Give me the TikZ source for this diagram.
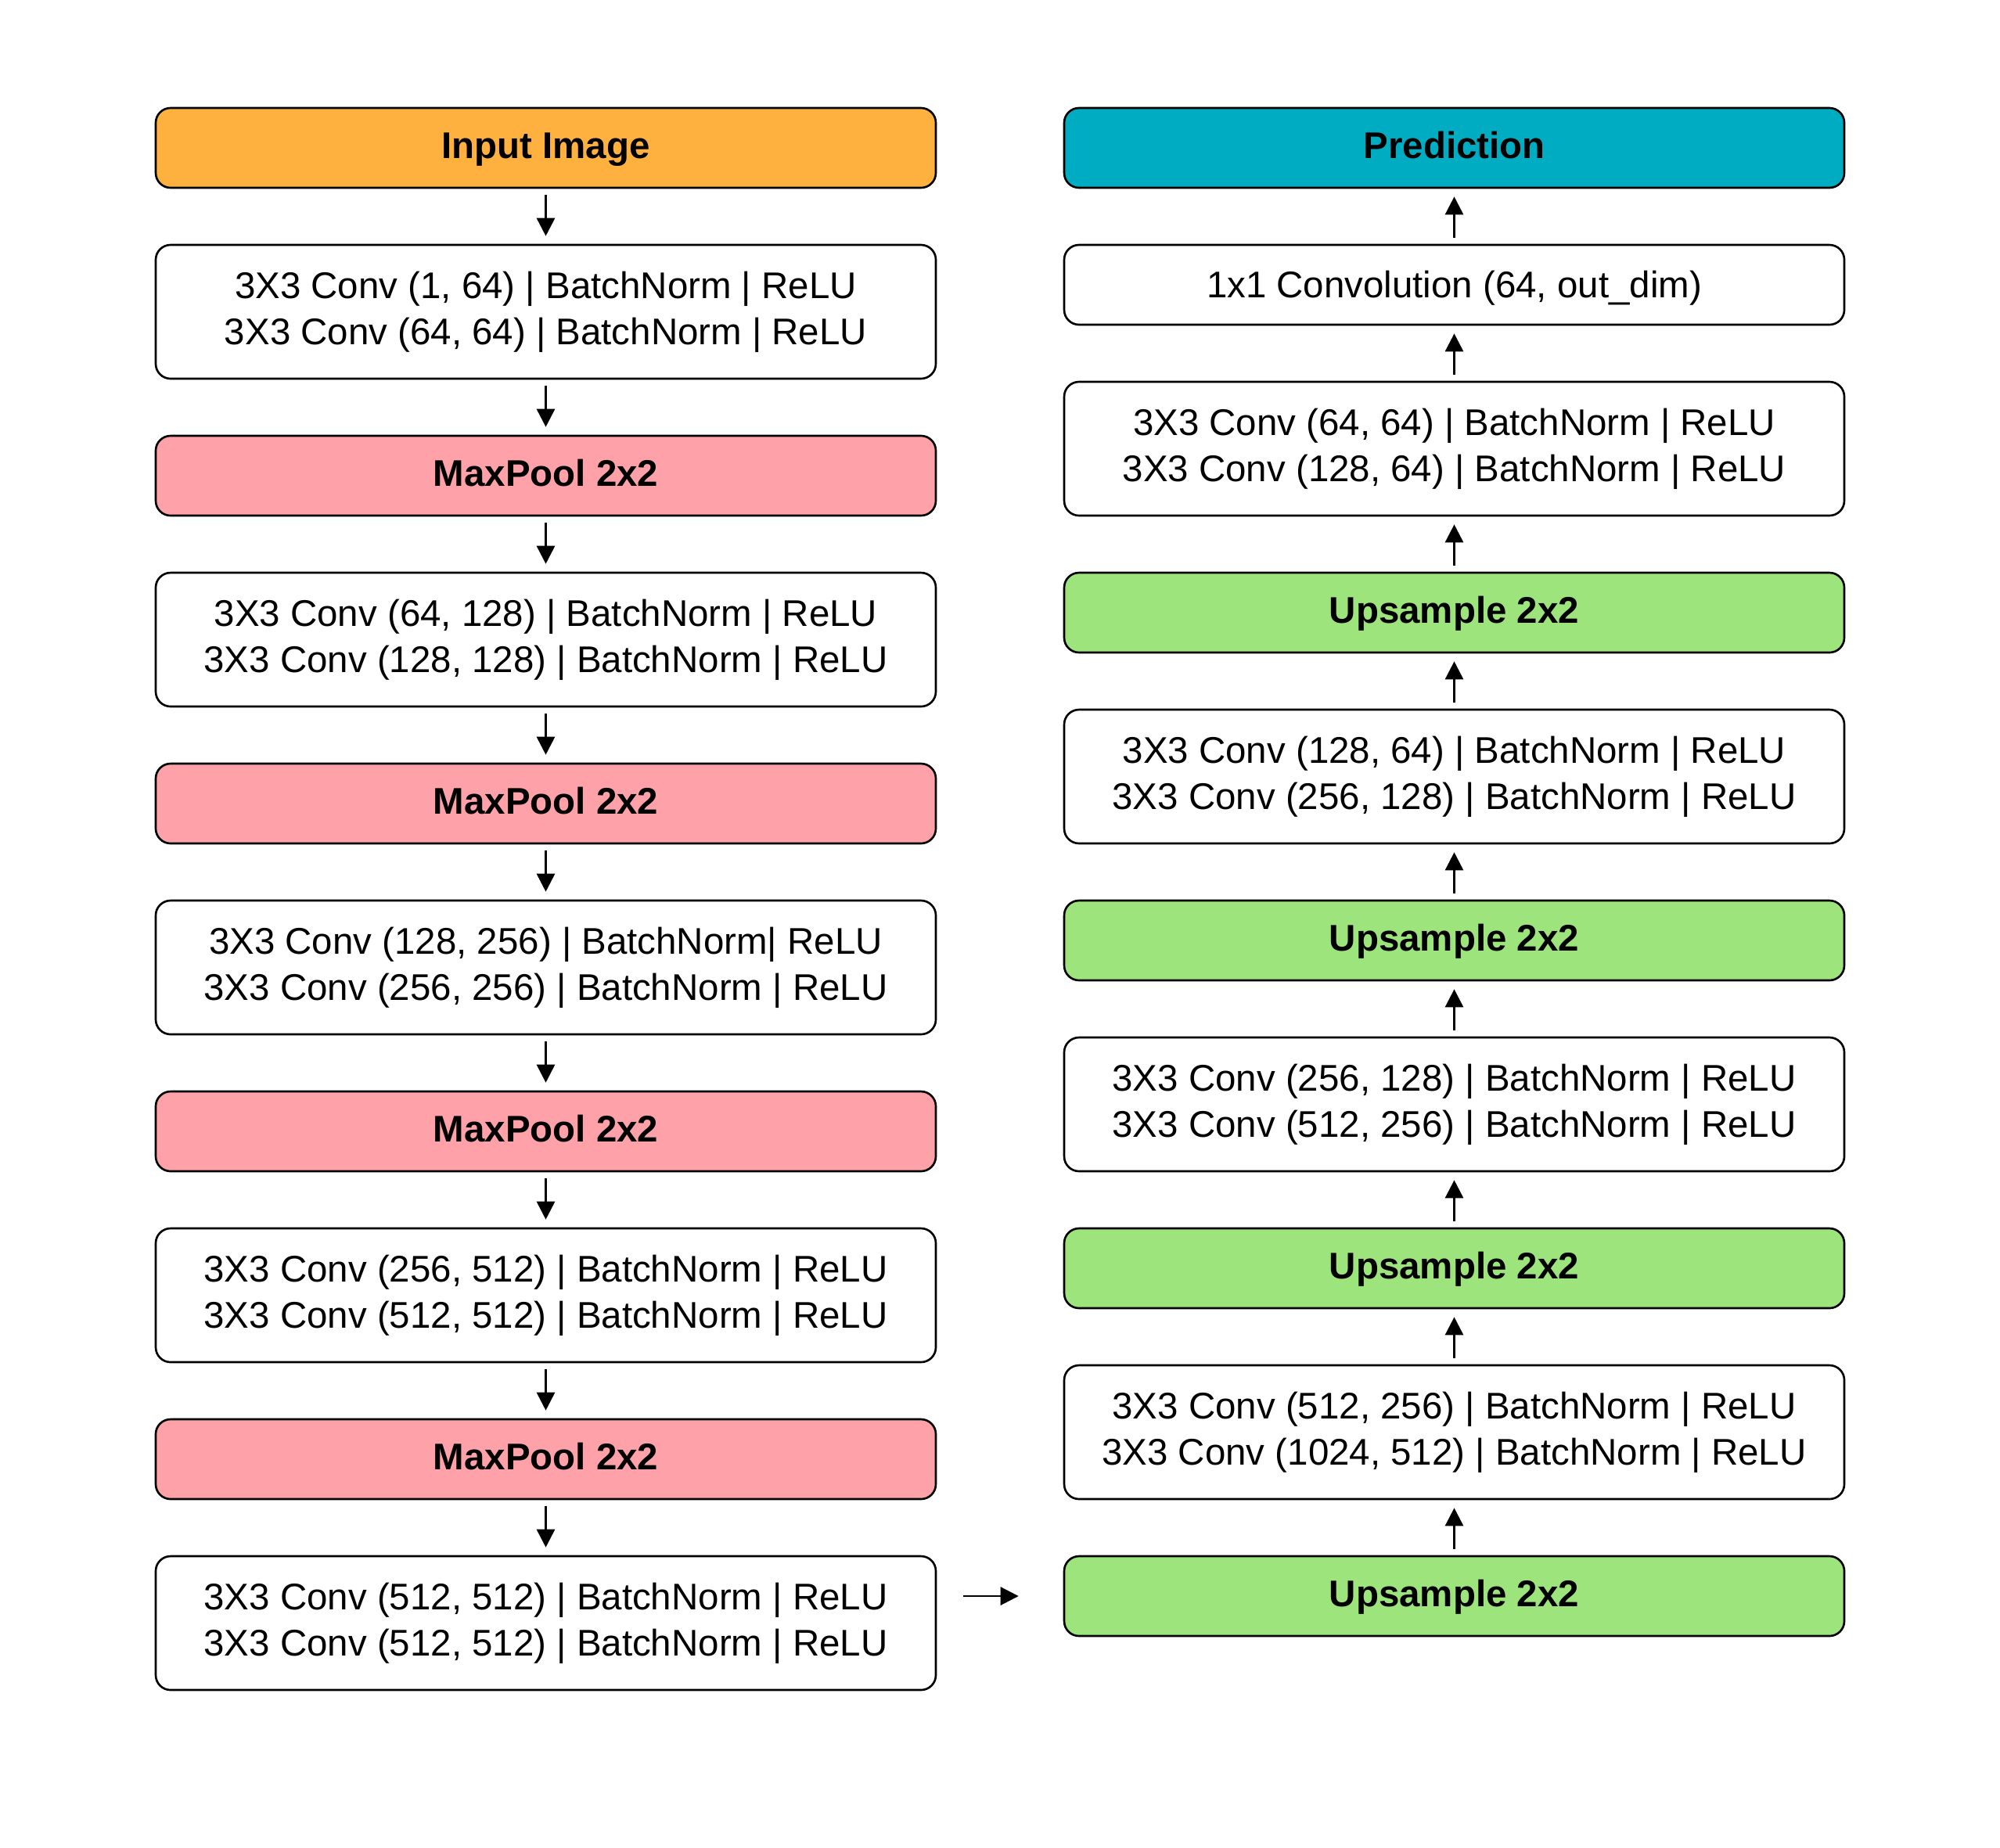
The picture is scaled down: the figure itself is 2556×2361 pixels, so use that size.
\documentclass[tikz,border=0pt]{standalone}
\usepackage{fontspec}
\setmainfont{Liberation Sans}
\usepackage{tikz}
\usetikzlibrary{arrows.meta}

\definecolor{inorange}{RGB}{255,177,64}
\definecolor{predteal}{RGB}{0,172,193}
\definecolor{poolpink}{RGB}{255,161,168}
\definecolor{upgreen}{RGB}{157,228,124}

\tikzset{
  blk/.style={draw=black, line width=0.75pt, rounded corners=1.9mm, align=center,
    minimum width=99.7mm, inner sep=0pt,
    font=\fontsize{13.5}{16.8}\selectfont},
  small/.style={blk, minimum height=10.2mm, text height=9.7pt, text depth=2.3pt},
  large/.style={blk, minimum height=17.1mm, fill=white},
  colbox/.style={small, fill=#1, font=\fontsize{13.5}{16.8}\selectfont\bfseries},
  arr/.style={-{Triangle[length=2.3mm,width=2.3mm]}, line width=0.8pt,
    shorten <=0.8mm, shorten >=1mm}
}

\begin{document}
\begin{tikzpicture}[x=0.1mm,y=-0.1mm]
\useasboundingbox (0,0) rectangle (2556,2361);

% encoder (left column)
\node[colbox=inorange] (inp) at (697.5,189) {Input Image};
\node[large] (cv1) at (697.5,398.5) {3X3 Conv (1, 64) | BatchNorm | ReLU\\3X3 Conv (64, 64) | BatchNorm | ReLU};
\node[colbox=poolpink] (mp1) at (697.5,608) {MaxPool 2x2};
\node[large] (cv2) at (697.5,817.5) {3X3 Conv (64, 128) | BatchNorm | ReLU\\3X3 Conv (128, 128) | BatchNorm | ReLU};
\node[colbox=poolpink] (mp2) at (697.5,1027) {MaxPool 2x2};
\node[large] (cv3) at (697.5,1236.5) {3X3 Conv (128, 256) | BatchNorm| ReLU\\3X3 Conv (256, 256) | BatchNorm | ReLU};
\node[colbox=poolpink] (mp3) at (697.5,1446) {MaxPool 2x2};
\node[large] (cv4) at (697.5,1655.5) {3X3 Conv (256, 512) | BatchNorm | ReLU\\3X3 Conv (512, 512) | BatchNorm | ReLU};
\node[colbox=poolpink] (mp4) at (697.5,1865) {MaxPool 2x2};
\node[large] (cv5) at (697.5,2074.5) {3X3 Conv (512, 512) | BatchNorm | ReLU\\3X3 Conv (512, 512) | BatchNorm | ReLU};

% decoder (right column)
\node[colbox=predteal] (pred) at (1858.5,189) {Prediction};
\node[small, text depth=0.1pt] (out) at (1858.5,364) {1x1 Convolution (64, out\_dim)};
\node[large] (dc1) at (1858.5,573.5) {3X3 Conv (64, 64) | BatchNorm | ReLU\\3X3 Conv (128, 64) | BatchNorm | ReLU};
\node[colbox=upgreen] (up1) at (1858.5,783) {Upsample 2x2};
\node[large] (dc2) at (1858.5,992.5) {3X3 Conv (128, 64) | BatchNorm | ReLU\\3X3 Conv (256, 128) | BatchNorm | ReLU};
\node[colbox=upgreen] (up2) at (1858.5,1202) {Upsample 2x2};
\node[large] (dc3) at (1858.5,1411.5) {3X3 Conv (256, 128) | BatchNorm | ReLU\\3X3 Conv (512, 256) | BatchNorm | ReLU};
\node[colbox=upgreen] (up3) at (1858.5,1621) {Upsample 2x2};
\node[large] (dc4) at (1858.5,1830.5) {3X3 Conv (512, 256) | BatchNorm | ReLU\\3X3 Conv (1024, 512) | BatchNorm | ReLU};
\node[colbox=upgreen] (up4) at (1858.5,2040) {Upsample 2x2};

% arrows
\foreach \a/\b in {inp/cv1,cv1/mp1,mp1/cv2,cv2/mp2,mp2/cv3,cv3/mp3,mp3/cv4,cv4/mp4,mp4/cv5}
  \draw[arr] (\a) -- (\b);
\foreach \a/\b in {up4/dc4,dc4/up3,up3/dc3,dc3/up2,up2/dc2,dc2/up1,up1/dc1,dc1/out,out/pred}
  \draw[arr] (\a) -- (\b);

\draw[arr, shorten <=3.4mm, shorten >=5.7mm] (cv5.east |- up4) -- (up4.west);
\end{tikzpicture}
\end{document}
